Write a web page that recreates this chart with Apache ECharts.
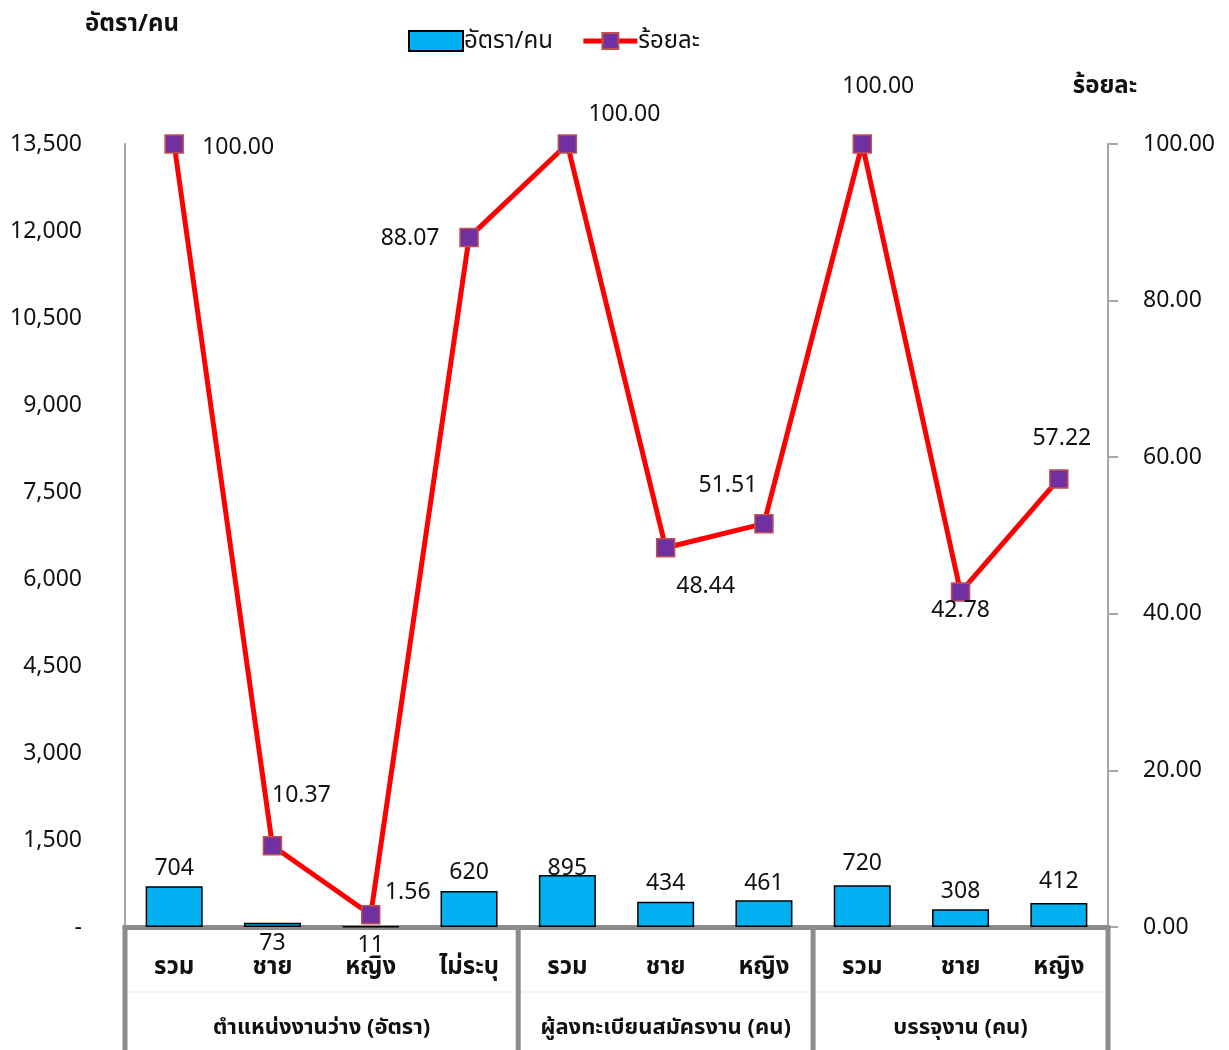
<!DOCTYPE html>
<html><head><meta charset="utf-8">
<script src="https://cdn.jsdelivr.net/npm/echarts@6/dist/echarts.min.js"></script>
<style>html,body{margin:0;padding:0;background:#fff}#c{width:1229px;height:1050px}</style>
</head><body><div id="c"></div>
<script>
const categories = ['รวม','ชาย','หญิง','ไม่ระบุ','รวม','ชาย','หญิง','รวม','ชาย','หญิง'];
const groups = ['ตำแหน่งงานว่าง (อัตรา)','ผู้ลงทะเบียนสมัครงาน (คน)','บรรจุงาน (คน)'];
const groupSizes = [4,3,3];
const rateValues = [704,73,11,620,895,434,461,720,308,412];
const percentValues = [100.00,10.37,1.56,88.07,100.00,48.44,51.51,100.00,42.78,57.22];
const leftAxis = {min:0, max:13500, interval:1500, name:'อัตรา/คน'};
const rightAxis = {min:0, max:100, interval:20, name:'ร้อยละ'};
const seriesNames = ['อัตรา/คน','ร้อยละ'];

// label placement (styles, not data)
const barLabelOffsets = [[0,-2],[0,36],[0,35],[0,-3],[0,9],[0,-3],[0,-1],[0,-6],[0,-2],[0,-6]];
const lineLabelOffsets = [[64,3],[29,-50],[37,-22],[-59,1],[57,-30],[40,39],[-36,-38],[16,-58],[0,18],[3,-41]];

const FONT = "'Noto Sans', 'Noto Sans Thai', 'DejaVu Sans', sans-serif";
const GRID = {left:125, right:121, top:144, bottom:123};
const SEP = '#8c8c8c';
const NUM = 23;
const THAI = 24;
const GROUP = 22;

const chart = echarts.init(document.getElementById('c'), null, {renderer:'canvas'});

const option = {
  animation:false,
  backgroundColor:'#fff',
  textStyle:{fontFamily:FONT},
  grid:GRID,
  legend:{
    top:24, left:403,
    itemWidth:54, itemHeight:20, itemGap:28,
    textStyle:{fontSize:THAI, color:'#111', fontFamily:FONT, padding:[0,0,0,-4]},
    data:[
      {name:seriesNames[0], icon:'rect', itemStyle:{color:'#00b0f0', borderColor:'#000', borderWidth:2}},
      {name:seriesNames[1], lineStyle:{width:5, color:'#ff0000'}}
    ]
  },
  xAxis:{
    type:'category', data:categories,
    axisLine:{show:true, lineStyle:{color:SEP, width:5}},
    axisTick:{show:false},
    axisLabel:{fontSize:THAI, fontWeight:'bold', color:'#111', margin:28, interval:0, fontFamily:FONT},
    splitLine:{show:false}
  },
  yAxis:[
    {type:'value', min:leftAxis.min, max:leftAxis.max, interval:leftAxis.interval,
     name:leftAxis.name, nameLocation:'end', nameGap:108,
     nameTextStyle:{fontSize:THAI, fontWeight:'bold', color:'#111', align:'center', padding:[0,0,0,14], fontFamily:FONT},
     axisLine:{show:true, lineStyle:{color:'#a6a6a6', width:2}},
     axisTick:{show:false},
     splitLine:{show:false},
     axisLabel:{fontSize:NUM, color:'#111', margin:43, fontFamily:FONT,
       formatter:v => v === 0 ? '-' : v.toLocaleString('en-US')}
    },
    {type:'value', min:rightAxis.min, max:rightAxis.max, interval:rightAxis.interval,
     name:rightAxis.name, nameLocation:'end', nameGap:46,
     nameTextStyle:{fontSize:THAI, fontWeight:'bold', color:'#111', align:'center', padding:[0,0,0,-6], fontFamily:FONT},
     axisLine:{show:true, lineStyle:{color:'#a6a6a6', width:2}},
     axisTick:{show:true, inside:false, length:10, lineStyle:{color:'#a6a6a6', width:2}},
     splitLine:{show:false},
     axisLabel:{fontSize:NUM, color:'#111', margin:35, fontFamily:FONT,
       formatter:v => v.toFixed(2)}
    }
  ],
  series:[
    {name:seriesNames[0], type:'bar', yAxisIndex:0, barWidth:'58%',
     itemStyle:{color:'#00b0f0', borderColor:'#000', borderWidth:1.5},
     data:rateValues.map((v,i)=>({value:v, label:{offset:barLabelOffsets[i]}})),
     label:{show:true, position:'top', distance:4, fontSize:NUM, color:'#111', fontFamily:FONT,
       formatter:p => p.value.toLocaleString('en-US')},
     z:2
    },
    {name:seriesNames[1], type:'line', yAxisIndex:1,
     symbol:'rect', symbolSize:18,
     lineStyle:{color:'#ff0000', width:5},
     itemStyle:{color:'#7030a0', borderColor:'#c0504d', borderWidth:1.5},
     data:percentValues.map((v,i)=>({value:v, label:{offset:lineLabelOffsets[i]}})),
     label:{show:true, position:'inside', fontSize:NUM, color:'#111', fontFamily:FONT,
       formatter:p => p.value.toFixed(2)},
     z:3
    }
  ]
};
chart.setOption(option);

// group labels and separators below the axis
function drawGroups(){
  const els = [];
  const yAxisPx = chart.convertToPixel({yAxisIndex:0}, 0);
  const half = (chart.convertToPixel({xAxisIndex:0}, 1) - chart.convertToPixel({xAxisIndex:0}, 0)) / 2;
  let start = 0;
  const bounds = [];
  groups.forEach((g,gi)=>{
    const end = start + groupSizes[gi] - 1;
    const x0 = chart.convertToPixel({xAxisIndex:0}, start) - half;
    const x1 = chart.convertToPixel({xAxisIndex:0}, end) + half;
    if (gi===0) bounds.push(x0);
    bounds.push(x1);
    els.push({type:'text', x:(x0+x1)/2, y:1028,
      style:{text:g, fontSize:GROUP, fontWeight:'bold', fill:'#111', fontFamily:FONT, align:'center', verticalAlign:'middle'}});
    start = end + 1;
  });
  els.push({type:'line', shape:{x1:bounds[0], y1:992, x2:bounds[bounds.length-1], y2:992},
    style:{stroke:'#ececec', lineWidth:1}, z:1});
  bounds.forEach(x=>{
    els.push({type:'line', shape:{x1:x, y1:yAxisPx-2, x2:x, y2:1052},
      style:{stroke:SEP, lineWidth:5}, z:5});
  });
  chart.setOption({graphic:els});
}
drawGroups();
</script></body></html>
